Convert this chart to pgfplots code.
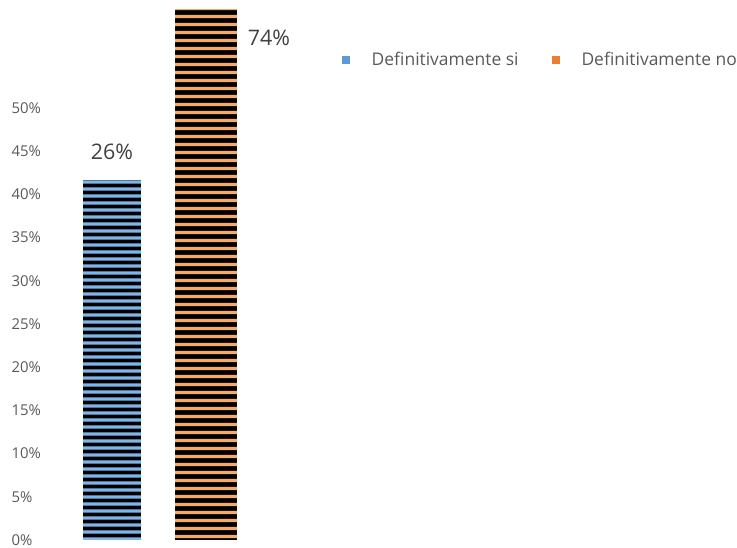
\documentclass[border=0pt]{standalone}
\usepackage{pgfplots}
\pgfplotsset{compat=1.18}
\usepackage{fontspec}
\setmainfont{Open Sans}
\usetikzlibrary{patterns.meta}
\definecolor{blueL}{HTML}{7DB6EA}
\definecolor{orangeL}{HTML}{F3A870}
\definecolor{blueM}{HTML}{5B9BD5}
\definecolor{orangeM}{HTML}{ED7D31}
\definecolor{tickgray}{HTML}{595959}
\definecolor{labgray}{HTML}{404040}
\pgfdeclarepattern{
  name=bluestripes, type=uncolored,
  bottom left={\pgfpoint{0bp}{0bp}},
  top right={\pgfpoint{120bp}{6.5bp}},
  tile size={\pgfpoint{120bp}{6.5bp}},
  code={\pgfpathrectangle{\pgfpoint{-1bp}{1.5bp}}{\pgfpoint{122bp}{3.4bp}}\pgfusepath{fill}}
}
\pgfdeclarepattern{
  name=orangestripes, type=uncolored,
  bottom left={\pgfpoint{0bp}{0bp}},
  top right={\pgfpoint{120bp}{8bp}},
  tile size={\pgfpoint{120bp}{8bp}},
  code={\pgfpathrectangle{\pgfpoint{-1bp}{2bp}}{\pgfpoint{122bp}{3.8bp}}\pgfusepath{fill}}
}
\begin{document}
\begin{tikzpicture}[x=1bp,y=1bp]
\path[use as bounding box] (0,0) rectangle (737,548);
\begin{axis}[
  at={(45bp,8bp)}, anchor=south west,
  scale only axis, width=692bp, height=540bp,
  xmin=-0.713, xmax=6.649, ymin=0, ymax=62.5,
  clip=false,
  axis line style={draw=none},
  major tick length=0pt,
  xtick=\empty,
  ytick={0,5,10,15,20,25,30,35,40,45,50},
  yticklabels={0\%,5\%,10\%,15\%,20\%,25\%,30\%,35\%,40\%,45\%,50\%},
  yticklabel style={anchor=west, xshift=-37bp, font=\fontsize{15}{17}\selectfont, text=tickgray},
  legend style={at={(axis cs:2.41,55.6)}, anchor=west, draw=none, fill=none,
    font=\fontsize{17.5}{20}\selectfont, text=tickgray,
    /tikz/every even column/.append style={column sep=31bp}},
  legend columns=2,
  legend cell align=left,
]
\addplot[ybar, bar width=58bp, bar shift=0pt, draw=none, forget plot,
  preaction={fill=black},
  pattern=bluestripes, pattern color=blueL]
  coordinates {(0,41.67)};
\addplot[ybar, bar width=62bp, bar shift=0pt, draw=none, forget plot,
  preaction={fill=black},
  pattern=orangestripes, pattern color=orangeL]
  coordinates {(1,61.34)};
\addplot[draw=none, mark=none, forget plot, nodes near coords, point meta=explicit symbolic,
  nodes near coords style={anchor=center, yshift=28bp, font=\fontsize{21.5}{24}\selectfont, text=labgray}]
  coordinates {(0,41.67) [26\%]};
\addplot[draw=none, mark=none, forget plot, nodes near coords, point meta=explicit symbolic,
  nodes near coords style={anchor=center, xshift=63bp, yshift=-28bp, font=\fontsize{21.5}{24}\selectfont, text=labgray}]
  coordinates {(1,61.34) [74\%]};
\addlegendimage{legend image code/.code={\fill[blueM,draw=none] (0bp,-4bp) rectangle (8bp,4bp); \path[draw=none,fill=none] (0bp,0) -- (28bp,0);}}
\addlegendentry{Definitivamente si}
\addlegendimage{legend image code/.code={\fill[orangeM,draw=none] (0bp,-4bp) rectangle (8bp,4bp); \path[draw=none,fill=none] (0bp,0) -- (28bp,0);}}
\addlegendentry{Definitivamente no}
\end{axis}
\end{tikzpicture}
\end{document}
